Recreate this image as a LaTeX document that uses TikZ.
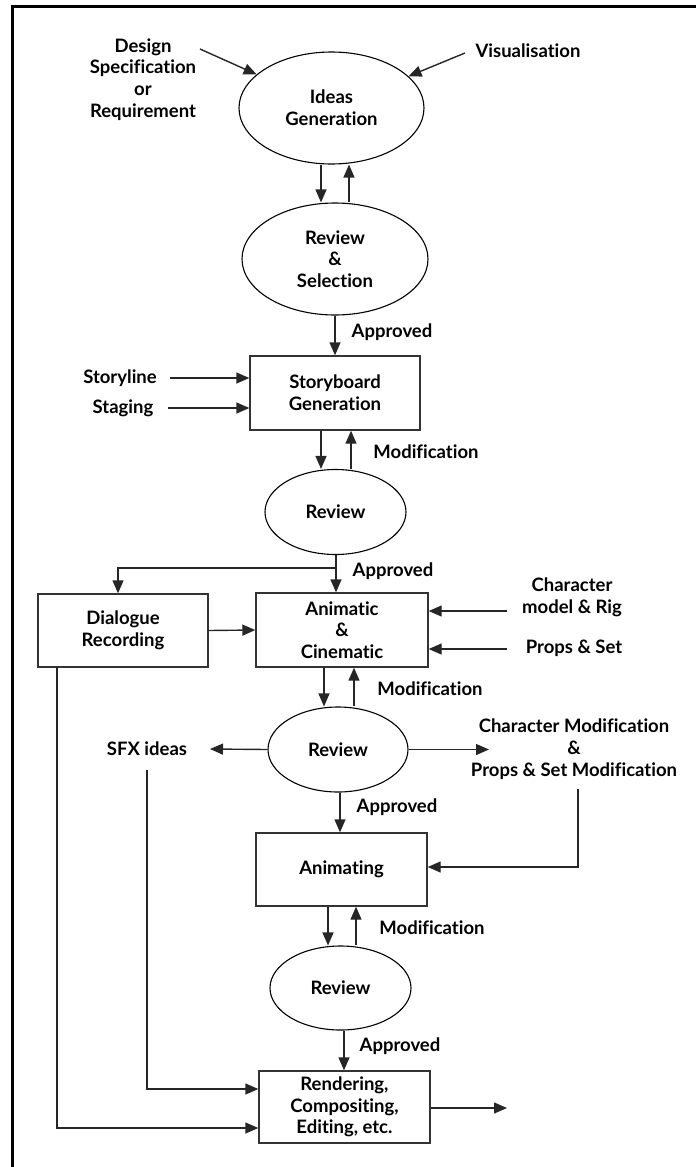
\documentclass[tikz,border=0pt]{standalone}
\usepackage{fontspec}
\setmainfont{Lato}[Ligatures={NoCommon}]
\usetikzlibrary{shapes.geometric,arrows.meta}

\tikzset{
  lbl/.style={font=\bfseries\fontsize{18.5}{21.7}\selectfont, align=center, inner sep=1pt},
  oval/.style={lbl, draw=black, line width=1.1pt, ellipse, inner sep=0pt},
  stepbox/.style={lbl, draw=black!80, line width=1.4pt, rectangle, inner sep=0pt},
  arr/.style={draw=black!85, line width=1.4pt, -{Triangle[length=13pt,width=11pt]}},
  wire/.style={draw=black!85, line width=1.4pt},
}

\begin{document}
\begin{tikzpicture}[x=1pt,y=-1pt]
\useasboundingbox (0,0) rectangle (696,1167);

% page frame (top and left edges)
\draw[line width=2.6pt] (12.7,1167) |- (696,6.5);

% ---- ideas stage ----
\node[oval, minimum width=185pt, minimum height=112pt] (ideas) at (331.5,108) {Ideas\\Generation};
\node[lbl] (dsr) at (143,79.5) {Design\\Specification\\or\\Requirement};
\node[lbl] (vis) at (528,51) {Visualisation};
\coordinate (ds0) at (200,49);
\coordinate (vs0) at (465,53);
\draw[arr] (ds0) -- (ideas);
\draw[arr] (vs0) -- (ideas);

\node[oval, minimum width=186pt, minimum height=112pt] (rs) at (335,259) {Review\\\&\\Selection};
\draw[arr] ([xshift=-14pt]rs.north |- ideas.south) -- ([xshift=-14pt]rs.north);
\draw[arr] ([xshift=14pt]rs.north) -- ([xshift=14pt]rs.north |- ideas.south);

% ---- storyboard ----
\node[stepbox, minimum width=170pt, minimum height=74pt] (sb) at (335,393) {Storyboard\\Generation};
\draw[arr] (rs.south) -- (rs.south |- sb.north);
\node[lbl] (ap1) at (392,332) {Approved};

\node[lbl] (sline) at (120,378) {Storyline};
\node[lbl] (stag) at (123,408) {Staging};
\coordinate (sl0) at (170,378);
\coordinate (st0) at (168,408);
\draw[arr] (sl0) -- (sl0 -| sb.west);
\draw[arr] (st0) -- (st0 -| sb.west);

\node[oval, minimum width=141pt, minimum height=85pt] (rv1) at (335.5,512) {Review};
\draw[arr] ([xshift=-14.5pt]rv1.north |- sb.south) -- ([xshift=-14.5pt]rv1.north);
\draw[arr] ([xshift=15.5pt]rv1.north) -- ([xshift=15.5pt]rv1.north |- sb.south);
\node[lbl] (md1) at (426,452) {Modification};

% ---- animatic ----
\node[stepbox, minimum width=170pt, minimum height=73pt] (dlg) at (123,630.5) {Dialogue\\Recording};
\node[stepbox, minimum width=172pt, minimum height=74pt] (anm) at (342,630) {Animatic\\\&\\Cinematic};
\coordinate (br) at (336,568);
\draw[wire] (rv1.south -| br) -- (br);
\draw[arr] (br) -- (br |- anm.north);
\draw[arr] (br) -| ([xshift=-5pt]dlg.north);
\node[lbl] (ap2) at (393,571) {Approved};
\draw[arr] (dlg.east) -- (anm.west);

\node[lbl] (cmr) at (572,597) {Character\\model \& Rig};
\node[lbl] (pst) at (574,648) {Props \& Set};
\coordinate (cm0) at (507,611);
\coordinate (ps0) at (507,649);
\draw[arr] (cm0) -- (cm0 -| anm.east);
\draw[arr] (ps0) -- (ps0 -| anm.east);

\node[oval, minimum width=140pt, minimum height=85pt] (rv2) at (338,749.5) {Review};
\draw[arr] ([xshift=-14pt]rv2.north |- anm.south) -- ([xshift=-14pt]rv2.north);
\draw[arr] ([xshift=16pt]rv2.north) -- ([xshift=16pt]rv2.north |- anm.south);
\node[lbl] (md2) at (430,689) {Modification};

\node[lbl] (sfx) at (147,749) {SFX ideas};
\coordinate (sfxin) at (210,749);
\draw[arr] (rv2.west) -- (sfxin);

\node[lbl] (cms) at (574,749) {Character Modification\\\&\\Props \& Set Modification};
\coordinate (cmsin) at (489,749.5);
\draw[arr] (rv2.east) -- (cmsin);

% ---- animating ----
\node[stepbox, minimum width=171pt, minimum height=73pt] (ang) at (341.5,869.5) {Animating};
\draw[arr] ([xshift=2pt]rv2.south) -- ([xshift=2pt]rv2.south |- ang.north);
\node[lbl] (ap3) at (397,807) {Approved};
\coordinate (cmsout) at (578,789);
\draw[arr] (cmsout) |- ([yshift=2.5pt]ang.east);

\node[oval, minimum width=141pt, minimum height=84pt] (rv3) at (340.5,988) {Review};
\draw[arr] ([xshift=-12.5pt]rv3.north |- ang.south) -- ([xshift=-12.5pt]rv3.north);
\draw[arr] ([xshift=15.5pt]rv3.north) -- ([xshift=15.5pt]rv3.north |- ang.south);
\node[lbl] (md3) at (432,928) {Modification};

% ---- final stage ----
\node[stepbox, minimum width=171pt, minimum height=72pt] (rnd) at (344.5,1107) {Rendering,\\Compositing,\\Editing, etc.};
\draw[arr] ([xshift=3.5pt]rv3.south) -- ([xshift=3.5pt]rv3.south |- rnd.north);
\node[lbl] (ap4) at (400,1046) {Approved};

\coordinate (sfxdn) at (147,770);
\draw[arr] (sfxdn) |- ([yshift=18pt]rnd.west);
\coordinate (dlgdn) at (57,667);
\draw[arr] (dlgdn) |- ([yshift=-21pt]rnd.west);

\coordinate (outp) at (507,1108);
\draw[arr] (rnd.east |- outp) -- (outp);
\end{tikzpicture}
\end{document}
